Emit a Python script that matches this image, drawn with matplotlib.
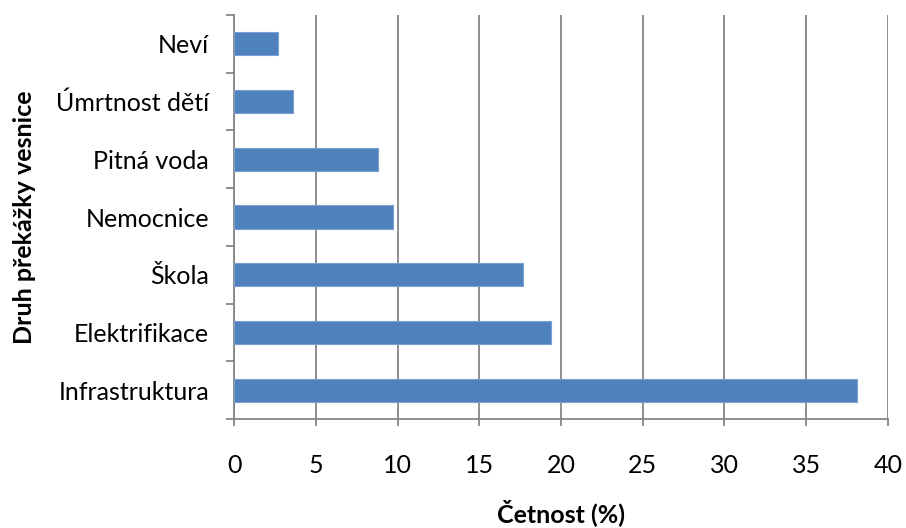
import numpy as np
import matplotlib.pyplot as plt
from matplotlib.ticker import FixedLocator

# survey answers, share of respondents in percent
kategorie = ['Infrastruktura', 'Elektrifikace', 'Škola', 'Nemocnice',
             'Pitná voda', 'Úmrtnost dětí', 'Neví']
cetnost = [38.1, 19.4, 17.7, 9.7, 8.8, 3.6, 2.7]

plt.rcParams['font.family'] = ['Lato', 'DejaVu Sans']
fs = 18

fig = plt.figure(figsize=(9.06, 5.28), dpi=100)
ax = fig.add_axes([0.2583, 0.2064, 0.9801 - 0.2583, 0.9716 - 0.2064])

y = np.arange(len(kategorie))
ax.barh(y, cetnost, height=0.4, color='#4f81bd', edgecolor='#7a9fd0',
        linewidth=0.8, zorder=3)

ax.set_xlim(0, 40)
ax.set_ylim(-0.5, len(kategorie) - 0.5)
ax.set_xticks(np.arange(0, 41, 5))
ax.set_yticks(y)
ax.set_yticklabels(kategorie)
# category boundaries get the small outward ticks
ax.yaxis.set_minor_locator(FixedLocator(np.arange(-0.5, len(kategorie), 1)))

ax.grid(axis='x', color='#868686', linewidth=1.3, zorder=0)
for s in ['top', 'right']:
    ax.spines[s].set_visible(False)
for s in ['left', 'bottom']:
    ax.spines[s].set_color('#868686')
    ax.spines[s].set_linewidth(1.3)

ax.tick_params(axis='x', direction='out', length=5, width=1.3,
               color='#868686', pad=20, labelsize=fs)
ax.tick_params(axis='y', which='major', length=0, pad=18, labelsize=fs)
ax.tick_params(axis='y', which='minor', direction='out', length=6,
               width=1.3, color='#868686')

ax.set_xlabel('Četnost (%)', fontsize=fs, fontweight='bold', labelpad=16)
ax.set_ylabel('Druh překážky vesnice', fontsize=fs, fontweight='bold',
              labelpad=14)

fig.savefig('out.png', dpi=100)
